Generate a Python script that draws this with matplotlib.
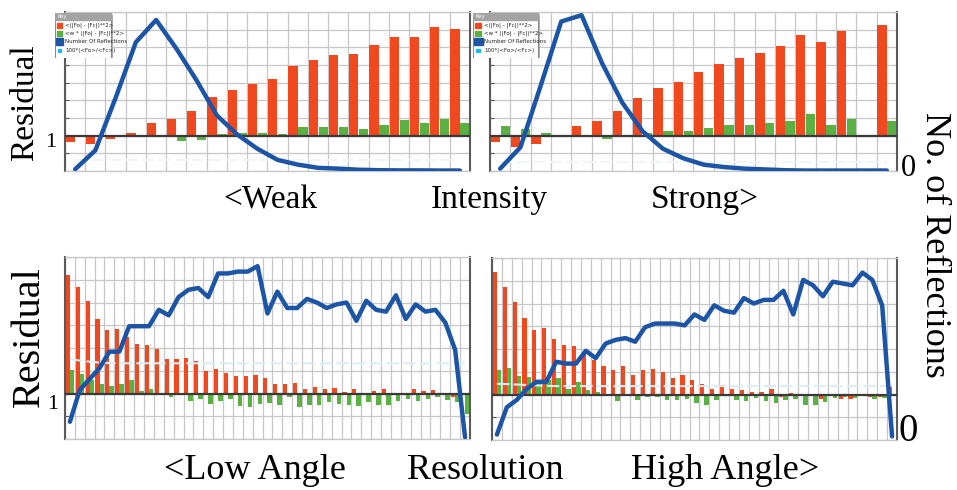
import numpy as np
import matplotlib
matplotlib.use("Agg")
import matplotlib.pyplot as plt
from matplotlib.patches import Rectangle

# residual bars (in grid units, 0 = the "1" line), counts in % of panel height
int_red_weak = [-0.38, -0.46, -0.19, 0.15, 0.69, 0.92, 1.37, 2.17, 2.56, 2.94,
                3.23, 3.92, 4.27, 4.58, 4.65, 5.12, 5.56, 5.60, 6.13, 6.06]
int_green_weak = [-0.04, -0.02, 0.02, -0.10, 0.02, -0.30, -0.23, 0.10, 0.15, 0.13,
                  0.10, 0.50, 0.50, 0.50, 0.35, 0.63, 0.87, 0.69, 0.96, 0.71]
int_count_weak = [1.1, 13, 46, 81, 95, 77, 57, 35, 23, 14,
                  7, 4, 2, 1.5, 0.8, 0.5, 0.4, 0.4, 0.3, 0.3]
int_ratio_weak = [-1.36, -1.36, -1.36, -1.36, -1.36, -1.36, -1.36, -1.36, -1.36, -1.36,
                  -1.36, -1.36, -1.36, -1.36, -1.36, -1.36, -1.36, -1.36, -1.36, -1.36]

int_red_strong = [-0.35, -0.63, -0.46, -0.06, 0.56, 0.85, 1.42, 2.15, 2.69, 3.06,
                  3.60, 4.06, 4.37, 4.69, 5.10, 5.70, 5.33, 5.90, 0.03, 6.25]
int_green_strong = [0.56, 0.38, 0.13, 0.02, 0.02, -0.19, -0.10, 0.13, 0.27, 0.27,
                    0.46, 0.60, 0.63, 0.71, 0.85, 1.21, 0.60, 0.92, 0.02, 0.81]
int_count_strong = [1.5, 15, 54, 94, 98, 68, 43, 25, 14, 8,
                    4, 2.5, 1.5, 1, 0.5, 0.3, 0.3, 0.3, 0.3, 0.3]
int_ratio_strong = [-1.5, -1.5, -1.5, -1.5, -1.5, -1.5, -1.5, -1.5, -1.5, -1.5,
                    -1.5, -1.5, -1.5, -1.5, -1.5, -1.5, -1.5, -1.5, -1.5, -1.5]

res_red_low = [5.23, 4.67, 4.07, 3.26, 2.79, 2.84, 2.47, 2.19, 2.15, 1.94,
               1.53, 1.51, 1.56, 1.41, 0.99, 1.07, 0.92, 0.79, 0.76, 0.81,
               0.67, 0.40, 0.43, 0.46, 0.22, 0.28, 0.19, 0.25, 0.07, 0.18,
               -0.03, 0.10, 0.22, 0.02, 0.04, 0.18, 0.10, 0.15, -0.07, -0.13,
               0.0]
res_green_low = [1.04, 0.87, 0.61, 0.40, 0.33, 0.41, 0.61, 0.10, 0.22, 0.02,
                 -0.15, -0.07, -0.33, -0.22, -0.47, -0.33, -0.22, -0.55, -0.59, -0.44,
                 -0.41, -0.49, -0.15, -0.59, -0.52, -0.49, -0.37, -0.44, -0.52, -0.55,
                 -0.37, -0.52, -0.52, -0.34, -0.25, -0.33, -0.22, -0.15, -0.30, -0.37,
                 -0.89]
res_count_low = [9.5, 27, 33, 39, 48, 48, 62, 62, 62, 71,
                 68, 78, 82, 83, 78, 91, 91, 92, 92, 95,
                 69, 81, 72, 72, 77, 75, 72, 74, 75, 65,
                 76, 71, 70, 79, 66, 74, 70, 71, 64, 49,
                 1]
res_ratio_low = [1.51, 1.45, 1.40, 1.36, 1.34, 1.33, 1.33, 1.33, 1.33, 1.33,
                 1.33, 1.33, 1.33, 1.33, 1.33, 1.33, 1.33, 1.33, 1.33, 1.33,
                 1.33, 1.33, 1.33, 1.33, 1.33, 1.33, 1.33, 1.33, 1.33, 1.33,
                 1.33, 1.33, 1.33, 1.33, 1.33, 1.33, 1.33, 1.33, 1.33, 1.33,
                 1.33]

res_red_high = [5.37, 4.74, 4.07, 3.38, 2.82, 2.91, 2.43, 2.18, 2.13, 1.76,
                1.53, 1.25, 1.10, 1.25, 0.88, 1.09, 1.13, 0.99, 0.74, 0.85,
                0.62, 0.47, 0.26, 0.41, 0.26, 0.18, 0.12, 0.12, 0.25, -0.09,
                0.07, 0.02, 0.02, -0.18, 0.02, -0.18, -0.19, 0.02, -0.12, -0.12,
                0.32]
res_green_high = [1.06, 1.18, 0.82, 0.79, 0.62, 0.66, 0.71, 0.25, 0.56, 0.18,
                  0.10, -0.07, -0.29, -0.07, -0.25, -0.12, -0.12, -0.25, -0.25, -0.18,
                  -0.37, -0.44, -0.25, -0.07, -0.25, -0.29, -0.15, -0.29, -0.37, -0.25,
                  -0.18, -0.44, -0.44, -0.32, -0.15, -0.12, -0.15, -0.07, -0.19, -0.15,
                  0.02]
res_count_high = [3, 18, 22, 28, 32, 32, 43, 42, 42, 49,
                  45, 53, 55, 56, 54, 62, 64, 64, 64, 63,
                  69, 66, 74, 71, 70, 78, 75, 77, 77, 82,
                  69, 88, 85, 79, 87, 86, 85, 92, 88, 74,
                  2]
res_ratio_high = [0.47, 0.46, 0.44, 0.42, 0.40, 0.38, 0.37, 0.37, 0.37, 0.37,
                  0.37, 0.37, 0.37, 0.37, 0.37, 0.37, 0.37, 0.37, 0.37, 0.37,
                  0.37, 0.37, 0.37, 0.37, 0.37, 0.37, 0.37, 0.37, 0.37, 0.37,
                  0.37, 0.37, 0.37, 0.37, 0.37, 0.37, 0.37, 0.37, 0.37, 0.37,
                  0.37]

key_labels = ["<(|Fo| - |Fc|)**2>", "<w * (|Fo| - |Fc|)**2>",
              "Number Of Reflections", "100*(<Fo>/<Fc>)"]

RED = "#f0491f"
GREEN = "#5bb044"
BLUE = "#1d55a6"
GRID = "#c6c6c6"
SPINE = "#5a5a5a"
SERIF = "Liberation Serif"


def draw_panel(ax, red, green, counts, ratio, ylo, yhi, red_off, red_w,
               green_off, green_w, pale):
    n = len(red)
    x = np.arange(n)
    ax.bar(x + red_off, red, width=red_w, align="edge", color=RED, zorder=2)
    ax.bar(x + green_off, green, width=green_w, align="edge", color=GREEN, zorder=2)
    ax.axhline(0, color="#3a3a3a", lw=1.6, zorder=3)
    ax.plot(x + 0.5, ratio, color=pale, lw=1.5, ls=(0, (6, 2)), zorder=3)
    ax.set_xlim(0, n)
    ax.set_ylim(ylo, yhi)
    ax.set_xticks(np.arange(n + 1))
    ax.set_yticks(np.arange(ylo, yhi + 1))
    ax.grid(True, color=GRID, lw=0.9)
    ax.set_axisbelow(True)
    ax.tick_params(labelleft=False, labelbottom=False, bottom=False,
                   left=True, right=True, direction="in", length=3, color=SPINE)
    for side in ["left", "right"]:
        ax.spines[side].set_color(SPINE)
        ax.spines[side].set_linewidth(1.5)
    for side in ["top", "bottom"]:
        ax.spines[side].set_color(GRID)
        ax.spines[side].set_linewidth(0.9)

    ax2 = ax.twinx()
    ax2.plot(x + 0.5, counts, color=BLUE, lw=3.2,
             solid_capstyle="round", solid_joinstyle="round")
    ax2.set_ylim(0, 100)
    ax2.set_axis_off()


def draw_key(fig, rect):
    lax = fig.add_axes(rect)
    lax.set_xlim(0, 1)
    lax.set_ylim(0, 1)
    lax.set_axis_off()
    lax.add_patch(Rectangle((0.03, -0.04), 1.0, 1.0, color="#b0b0b0", zorder=0))
    lax.add_patch(Rectangle((0, 0), 0.97, 1.0, facecolor="white",
                            edgecolor="#8a8a8a", lw=0.8, zorder=1))
    lax.add_patch(Rectangle((0, 0.85), 0.97, 0.15, color="#a3a3a3", zorder=2))
    lax.text(0.04, 0.925, "Key", fontsize=3.8, color="white", va="center",
             family=["Liberation Sans Narrow", "DejaVu Sans"], zorder=3)
    swatches = [(RED, 0.09), (GREEN, 0.09), (BLUE, 0.13), ("#22b8ee", 0.06)]
    ys = [0.72, 0.54, 0.36, 0.17]
    for (col, sz), y, lab in zip(swatches, ys, key_labels):
        lax.add_patch(Rectangle((0.08 - sz / 2, y - sz * 0.6), sz, sz * 1.2,
                                color=col, zorder=3))
        lax.text(0.17, y, lab, fontsize=4.0, va="center", color="#222222",
                 family=["Liberation Sans Narrow", "DejaVu Sans"], zorder=3)


fig = plt.figure(figsize=(9.57, 4.9), dpi=100)

ax_a = fig.add_axes([0.0679, 0.651, 0.4232, 0.3245])
ax_b = fig.add_axes([0.512, 0.651, 0.4253, 0.3245])
ax_c = fig.add_axes([0.0679, 0.104, 0.4232, 0.3714])
ax_d = fig.add_axes([0.5141, 0.102, 0.4232, 0.3714])

draw_panel(ax_a, int_red_weak, int_green_weak, int_count_weak, int_ratio_weak,
           -2, 7, 0.03, 0.46, 0.52, 0.46, "#eef6fa")
draw_panel(ax_b, int_red_strong, int_green_strong, int_count_strong, int_ratio_strong,
           -2, 7, 0.03, 0.46, 0.52, 0.46, "#eef6fa")
draw_panel(ax_c, res_red_low, res_green_low, res_count_low, res_ratio_low,
           -2, 6, 0.08, 0.42, 0.5, 0.46, "#dbeef6")
draw_panel(ax_d, res_red_high, res_green_high, res_count_high, res_ratio_high,
           -2, 6, 0.08, 0.42, 0.5, 0.46, "#dbeef6")

draw_key(fig, [0.0575, 0.8816, 0.0606, 0.0918])
draw_key(fig, [0.4943, 0.8816, 0.0700, 0.0918])

# axis annotations
fig.text(0.2821, 0.5918, "<Weak", fontsize=24, family=SERIF, ha="center", va="center")
fig.text(0.5110, 0.5918, "Intensity", fontsize=24, family=SERIF, ha="center", va="center")
fig.text(0.7367, 0.5918, "Strong>", fontsize=24, family=SERIF, ha="center", va="center")
fig.text(0.2665, 0.0408, "<Low Angle", fontsize=26, family=SERIF, ha="center", va="center")
fig.text(0.5068, 0.0408, "Resolution", fontsize=26, family=SERIF, ha="center", va="center")
fig.text(0.7576, 0.0408, "High Angle>", fontsize=26, family=SERIF, ha="center", va="center")

fig.text(0.0261, 0.7898, "Residual", fontsize=24, family=SERIF, rotation=90,
         ha="center", va="center")
fig.text(0.0303, 0.3122, "Residual", fontsize=29, family=SERIF, rotation=90,
         ha="center", va="center")
fig.text(0.0533, 0.7082, "1", fontsize=16, family=SERIF, ha="center", va="center")
fig.text(0.0554, 0.1755, "1", fontsize=16, family=SERIF, ha="center", va="center")
fig.text(0.9488, 0.6571, "0", fontsize=22, family=SERIF, ha="center", va="center")
fig.text(0.9488, 0.1184, "0", fontsize=28, family=SERIF, ha="center", va="center")
fig.text(0.9770, 0.5000, "No. of Reflections", fontsize=26, family=SERIF,
         rotation=-90, ha="center", va="center")

fig.savefig("out.png", dpi=100)
